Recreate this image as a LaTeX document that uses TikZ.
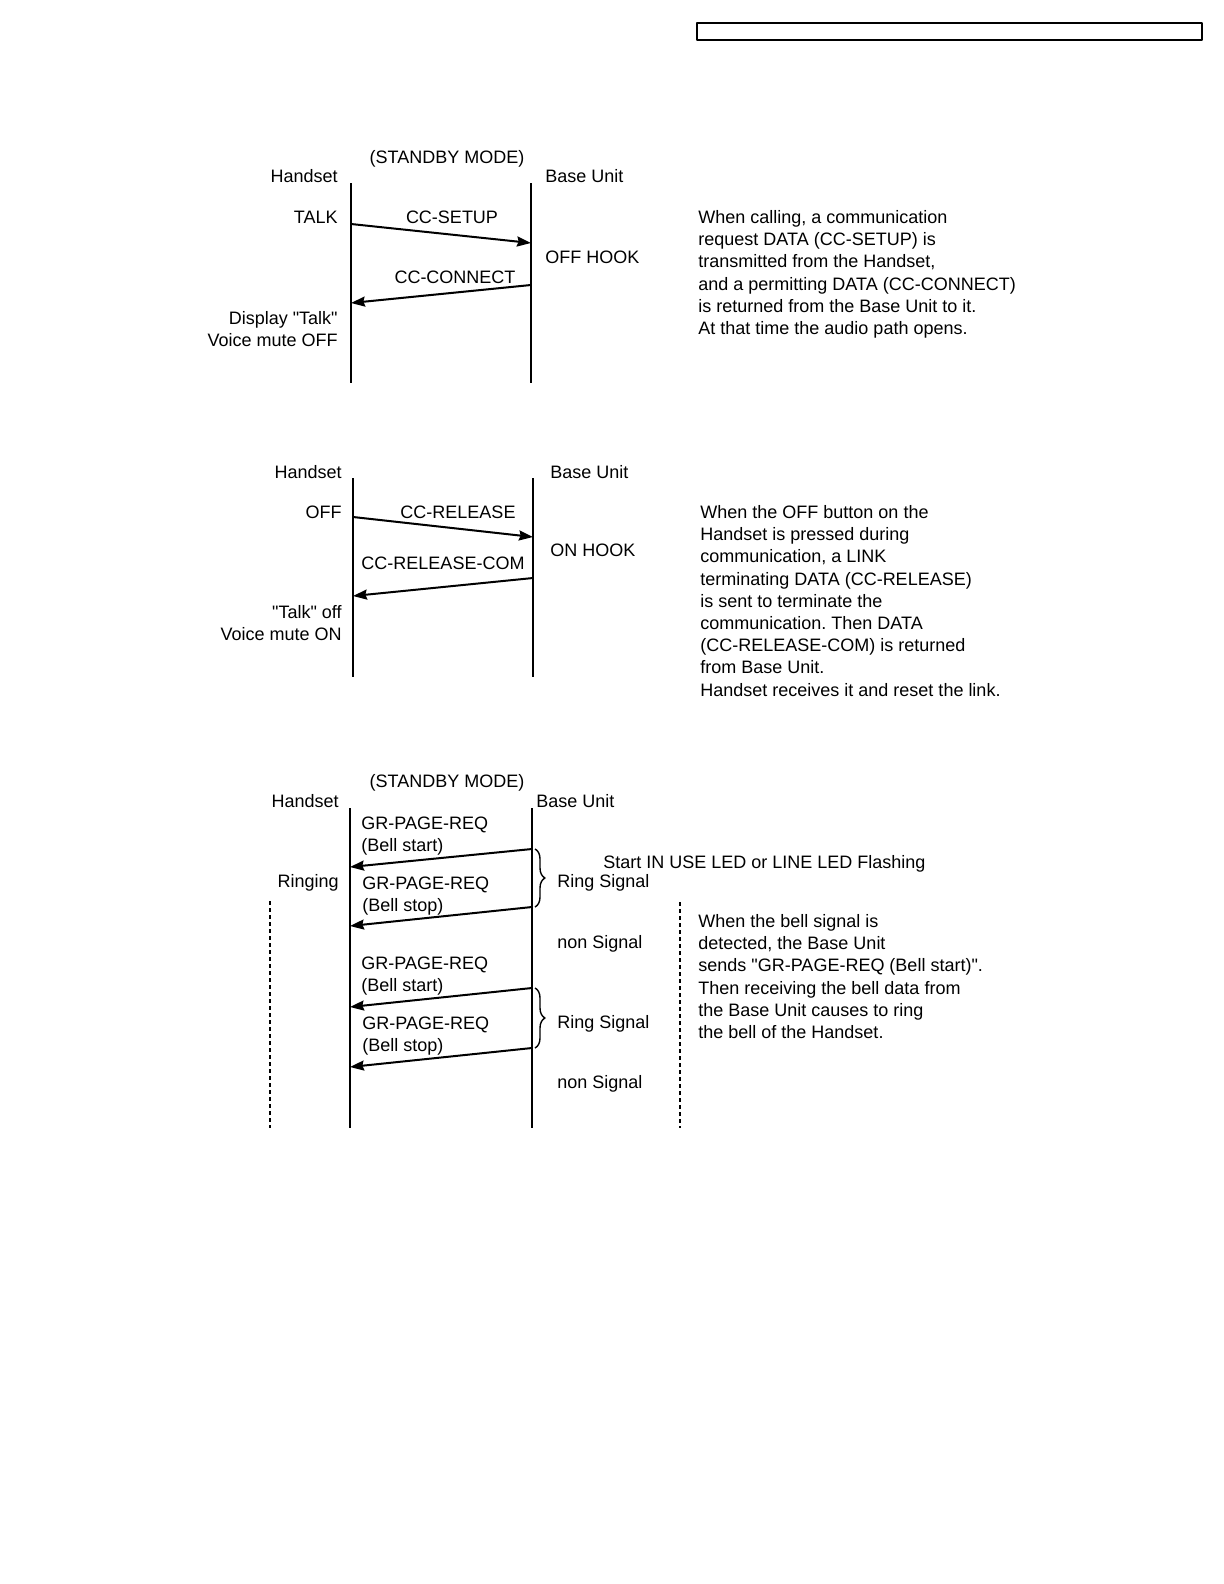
\documentclass[tikz,border=0pt]{standalone}
\usepackage{fontspec}
\setmainfont{Liberation Sans}
\usetikzlibrary{arrows.meta,decorations.pathreplacing}
\frenchspacing

\begin{document}
\begin{tikzpicture}[x=0.5pt, y=-0.5pt, font=\fontsize{9}{11.1}\selectfont, line join=round, >={Stealth[length=7pt,width=5pt,inset=0.8pt]},
		life/.style={line width=1pt},
		msg/.style={->, line width=1pt},
		lbl/.style={inner sep=0pt},
		note/.style={inner sep=0pt, anchor=north west, align=left},
		guide/.style={line width=0.8pt, dash pattern=on 2pt off 1.5pt},
		ringbrace/.style={decorate, decoration={brace, amplitude=5pt}, line width=0.7pt}]
	\useasboundingbox (0,0) rectangle (1224,1584);
	
	% Khung tiêu đề trang
	\draw[line width=0.8pt] (697,23) rectangle (1202,40);
	
	% Phần 1: gọi đi (TALK)
	\coordinate (h1t) at (351,183);
	\coordinate (h1b) at (351,383);
	\coordinate (b1t) at (531,183);
	\coordinate (b1b) at (531,383);
	\draw[life] (h1t) -- (h1b);
	\draw[life] (b1t) -- (b1b);
	\node[lbl, anchor=base] (mode1) at (447,163) {(STANDBY MODE)};
	\node[lbl, anchor=base east] (hsA) at (338,183) {Handset};
	\node[lbl, anchor=base west] (buA) at (545,183) {Base Unit};
	\node[lbl, anchor=base east] (talk) at (338,223) {TALK};
	\node[lbl, anchor=base] (setup) at (452,223) {CC-SETUP};
	\node[lbl, anchor=base west] (offhook) at (545,263) {OFF HOOK};
	\node[lbl, anchor=base] (connect) at (455,283) {CC-CONNECT};
	\node[lbl, anchor=north east, align=right] (disp) at (338,311) {Display \textquotedbl Talk\textquotedbl\\Voice mute OFF};
	\coordinate (m1a) at (351,224);
	\coordinate (m1b) at (531,243);
	\coordinate (m2a) at (531,285);
	\coordinate (m2b) at (351,303);
	\draw[msg] (m1a) -- (m1b);
	\draw[msg] (m2a) -- (m2b);
	\node[note] (noteA) at (698,210) {When calling, a communication\\request DATA (CC-SETUP) is\\transmitted from the Handset,\\and a permitting DATA (CC-CONNECT)\\is returned from the Base Unit to it.\\At that time the audio path opens.};
	
	% Phần 2: kết thúc (OFF)
	\coordinate (h2t) at (353,478);
	\coordinate (h2b) at (353,677);
	\coordinate (b2t) at (533,478);
	\coordinate (b2b) at (533,677);
	\draw[life] (h2t) -- (h2b);
	\draw[life] (b2t) -- (b2b);
	\node[lbl, anchor=base east] (hsB) at (342,478) {Handset};
	\node[lbl, anchor=base west] (buB) at (550,478) {Base Unit};
	\node[lbl, anchor=base east] (off) at (342,518) {OFF};
	\node[lbl, anchor=base] (release) at (458,518) {CC-RELEASE};
	\node[lbl, anchor=base west] (onhook) at (550,556) {ON HOOK};
	\node[lbl, anchor=base] (relcom) at (443,569) {CC-RELEASE-COM};
	\node[lbl, anchor=north east, align=right] (talkoff) at (342,605) {\textquotedbl Talk\textquotedbl{} off\\Voice mute ON};
	\coordinate (m3a) at (353,517);
	\coordinate (m3b) at (533,537);
	\coordinate (m4a) at (533,578);
	\coordinate (m4b) at (353,596);
	\draw[msg] (m3a) -- (m3b);
	\draw[msg] (m4a) -- (m4b);
	\node[note] (noteB) at (700,505) {When the OFF button on the\\Handset is pressed during\\communication, a LINK\\terminating DATA (CC-RELEASE)\\is sent to terminate the\\communication. Then DATA\\(CC-RELEASE-COM) is returned\\from Base Unit.\\Handset receives it and reset the link.};
	
	% Phần 3: chuông (Ringing)
	\coordinate (h3t) at (350,808);
	\coordinate (h3b) at (350,1128);
	\coordinate (b3t) at (532,808);
	\coordinate (b3b) at (532,1128);
	\draw[life] (h3t) -- (h3b);
	\draw[life] (b3t) -- (b3b);
	\node[lbl, anchor=base] (mode3) at (447,787) {(STANDBY MODE)};
	\node[lbl, anchor=base east] (hsC) at (339,807) {Handset};
	\node[lbl, anchor=base west] (buC) at (536,807) {Base Unit};
	\node[lbl, anchor=base east] (ringing) at (339,887) {Ringing};
	\node[lbl, anchor=north west, align=left] (gr1) at (361,816.5) {GR-PAGE-REQ\\(Bell start)};
	\node[lbl, anchor=north west, align=left] (gr2) at (362,876.5) {GR-PAGE-REQ\\(Bell stop)};
	\node[lbl, anchor=north west, align=left] (gr3) at (361,956.5) {GR-PAGE-REQ\\(Bell start)};
	\node[lbl, anchor=north west, align=left] (gr4) at (362,1016.5) {GR-PAGE-REQ\\(Bell stop)};
	\coordinate (r1a) at (532,849);
	\coordinate (r1b) at (350,867);
	\coordinate (r2a) at (532,907);
	\coordinate (r2b) at (350,926);
	\coordinate (r3a) at (532,988);
	\coordinate (r3b) at (350,1007);
	\coordinate (r4a) at (532,1048);
	\coordinate (r4b) at (350,1067);
	\draw[msg] (r1a) -- (r1b);
	\draw[msg] (r2a) -- (r2b);
	\draw[msg] (r3a) -- (r3b);
	\draw[msg] (r4a) -- (r4b);
	\draw[ringbrace] ([xshift=1.5pt]r1a) -- ([xshift=1.5pt]r2a);
	\draw[ringbrace] ([xshift=1.5pt]r3a) -- ([xshift=1.5pt]r4a);
	\node[lbl, anchor=base west] (ring1) at (557,887) {Ring Signal};
	\node[lbl, anchor=base west] (non1) at (557,948) {non Signal};
	\node[lbl, anchor=base west] (ring2) at (557,1028) {Ring Signal};
	\node[lbl, anchor=base west] (non2) at (557,1088) {non Signal};
	\node[lbl, anchor=base west] (led) at (603,868) {Start IN USE LED or LINE LED Flashing};
	\coordinate (g1t) at (270,901);
	\coordinate (g1b) at (270,1128);
	\coordinate (g2t) at (680,902);
	\coordinate (g2b) at (680,1128);
	\draw[guide] (g1t) -- (g1b);
	\draw[guide] (g2t) -- (g2b);
	\node[note] (noteC) at (698,914) {When the bell signal is\\detected, the Base Unit\\sends \textquotedbl GR-PAGE-REQ (Bell start)\textquotedbl.\\Then receiving the bell data from\\the Base Unit causes to ring\\the bell of the Handset.};
\end{tikzpicture}
\end{document}
